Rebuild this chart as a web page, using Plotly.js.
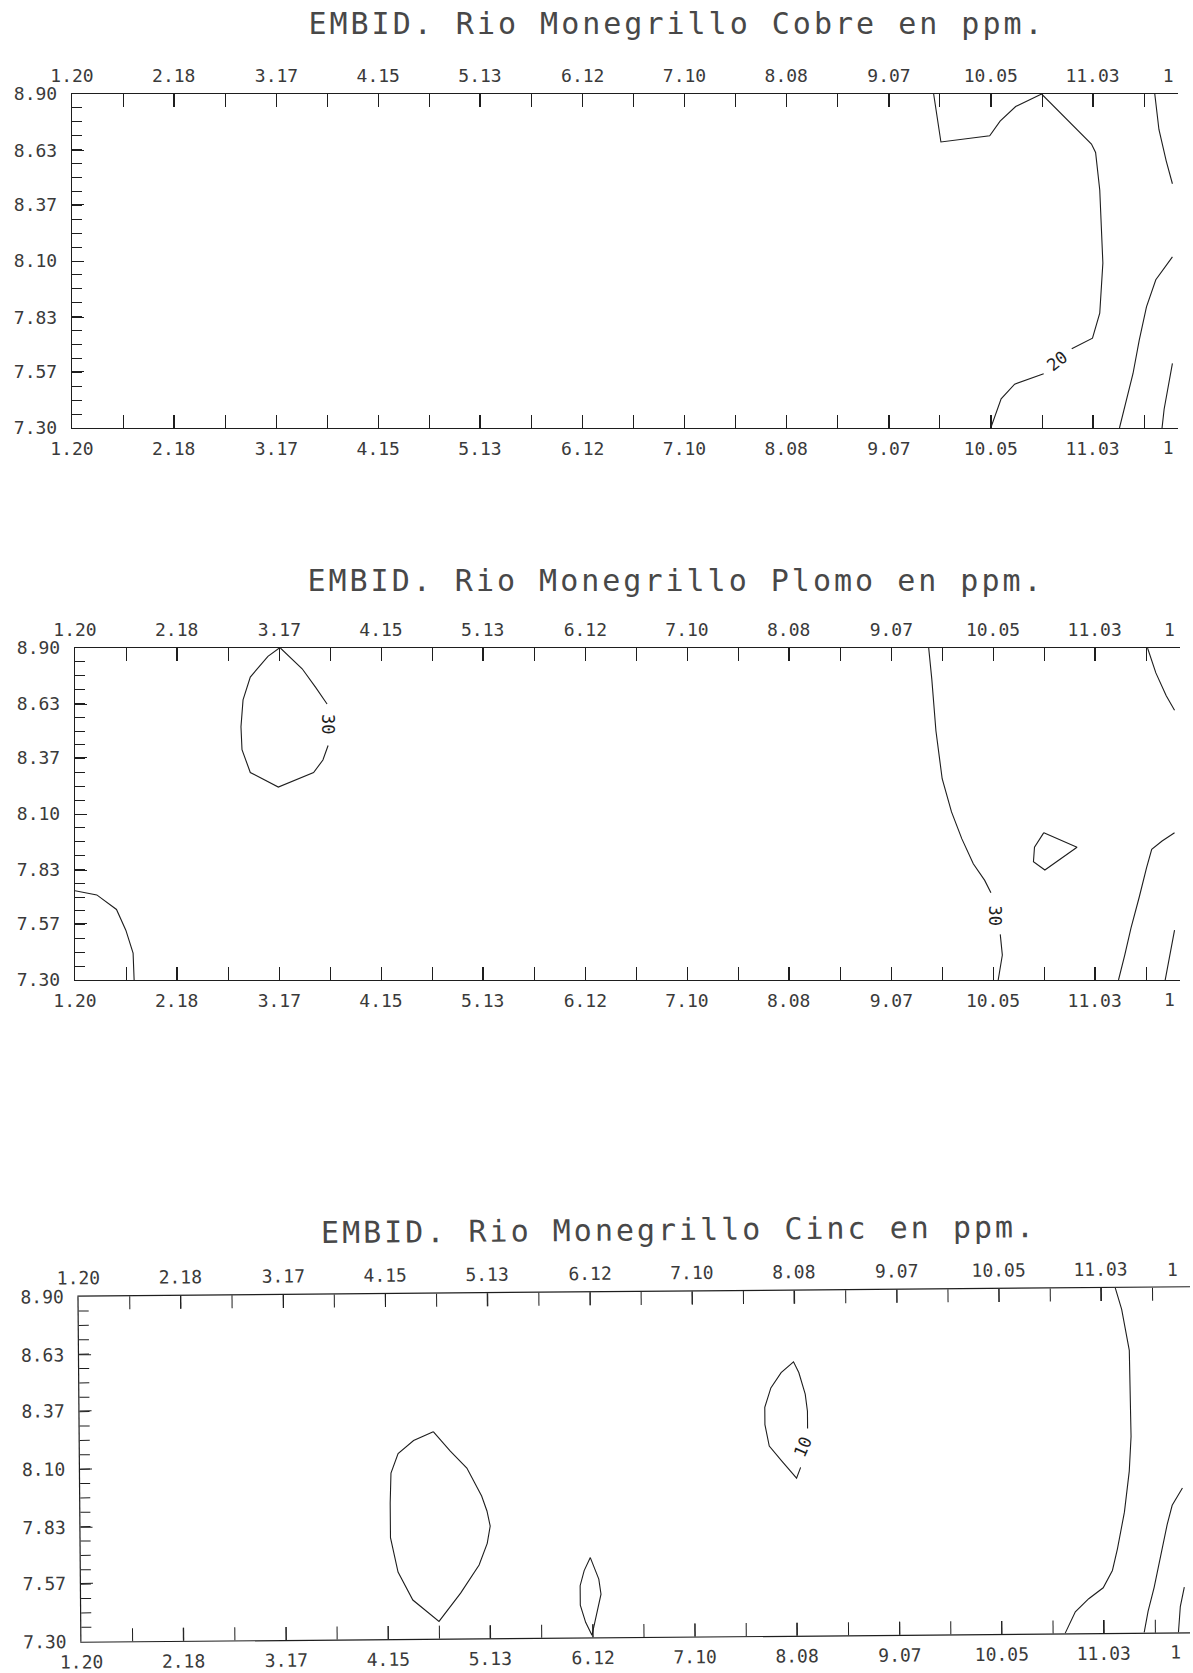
<!DOCTYPE html>
<html>
<head>
<meta charset="utf-8">
<script src="https://cdn.plot.ly/plotly-3.0.1.min.js"></script>
<style>
  html, body { margin:0; padding:0; background:#fff; }
  body { width:1193px; height:1673px; overflow:hidden; position:relative; }
  .clip { position:absolute; overflow:hidden; background:#fff; }
  .gtitle { letter-spacing:3px; }
  #p3 path, #p3 .crisp { shape-rendering:geometricPrecision !important; }
</style>
</head>
<body>
<div class="clip" style="left:0;top:0;width:1178px;height:470px;"><div id="p1"></div></div>
<div class="clip" style="left:0;top:500px;width:1180px;height:520px;"><div id="p2"></div></div>
<div class="clip" style="left:0;top:1190px;width:1190px;height:483px;"><div id="p3" style="transform:rotate(-0.48deg);transform-origin:633px 274px;"></div></div>
<script>
// ---------------- DATA ----------------
// x tick labels as printed (the last one is cut by the scan edge and shows only "1")
const xTickVals = [1.20, 2.18, 3.17, 4.15, 5.13, 6.12, 7.10, 8.08, 9.07, 10.05, 11.03, 12.02];
const xTickLabels = ['1.20','2.18','3.17','4.15','5.13','6.12','7.10','8.08','9.07','10.05','11.03','1'];
const xAxisMax = 13.00;
const yTickLabels = ['7.30','7.57','7.83','8.10','8.37','8.63','8.90'];
const titles = ['EMBID. Rio Monegrillo Cobre en ppm.', 'EMBID. Rio Monegrillo Plomo en ppm.', 'EMBID. Rio Monegrillo Cinc en ppm.'];

// Cobre (copper) contour lines
const cuA1_x = [9.50, 9.57, 10.04, 10.14, 10.29, 10.54, 11.02, 11.06, 11.10, 11.12, 11.13, 11.10, 11.03, 10.83];
const cuA1_y = [8.90, 8.67, 8.70, 8.77, 8.84, 8.90, 8.66, 8.62, 8.44, 8.25, 8.09, 7.85, 7.73, 7.68];
const cuA2_x = [10.56, 10.28, 10.15, 10.05];
const cuA2_y = [7.56, 7.51, 7.44, 7.30];
const cuB_x = [11.63, 11.67, 11.74, 11.80];
const cuB_y = [8.90, 8.73, 8.58, 8.47];
const cuC_x = [11.80, 11.64, 11.55, 11.48, 11.42, 11.36, 11.29];
const cuC_y = [8.12, 8.01, 7.88, 7.72, 7.56, 7.44, 7.30];
const cuD_x = [11.80, 11.75, 11.72, 11.70];
const cuD_y = [7.61, 7.48, 7.39, 7.30];
const cuLabelX = [10.69], cuLabelY = [7.62], cuLabelText = ['20'];

// Plomo (lead) contour lines
const pbJ1_x = [3.18, 3.39, 3.52, 3.63];
const pbJ1_y = [8.90, 8.80, 8.71, 8.63];
const pbJ2_x = [3.64, 3.59, 3.50, 3.16, 2.89, 2.81, 2.80, 2.82, 2.89, 3.06, 3.17];
const pbJ2_y = [8.43, 8.36, 8.30, 8.23, 8.30, 8.41, 8.52, 8.65, 8.76, 8.86, 8.90];
const pbK_x = [1.20, 1.41, 1.60, 1.69, 1.76, 1.77];
const pbK_y = [7.73, 7.71, 7.64, 7.54, 7.43, 7.30];
const pbE1_x = [9.43, 9.46, 9.50, 9.56, 9.65, 9.75, 9.86, 9.97, 10.03];
const pbE1_y = [8.90, 8.75, 8.50, 8.27, 8.11, 7.98, 7.86, 7.78, 7.72];
const pbE2_x = [10.12, 10.14, 10.10];
const pbE2_y = [7.52, 7.42, 7.30];
const pbF_x = [10.54, 10.86, 10.55, 10.44, 10.45, 10.54];
const pbF_y = [8.01, 7.94, 7.83, 7.87, 7.94, 8.01];
const pbG_x = [11.54, 11.62, 11.72, 11.80];
const pbG_y = [8.90, 8.78, 8.67, 8.60];
const pbH_x = [11.80, 11.68, 11.58, 11.53, 11.46, 11.38, 11.32, 11.26];
const pbH_y = [8.01, 7.97, 7.93, 7.84, 7.70, 7.55, 7.42, 7.30];
const pbI_x = [11.80, 11.76, 11.73, 11.71];
const pbI_y = [7.54, 7.43, 7.35, 7.30];
const pbLabelX = [3.646, 10.07], pbLabelY = [8.535, 7.61], pbLabelText = ['30', '30'];

// Cinc (zinc) contour lines
const znL_x = [4.60, 4.41, 4.26, 4.19, 4.18, 4.18, 4.25, 4.39, 4.64, 4.85, 5.03, 5.11, 5.14, 5.11, 5.06, 4.92, 4.76, 4.60];
const znL_y = [8.26, 8.22, 8.16, 8.07, 7.93, 7.77, 7.61, 7.48, 7.38, 7.51, 7.64, 7.74, 7.82, 7.89, 7.96, 8.09, 8.17, 8.26];
const znM_x = [6.10, 6.18, 6.20, 6.15, 6.11, 6.05, 6.00, 6.00, 6.04, 6.10];
const znM_y = [7.67, 7.57, 7.50, 7.39, 7.31, 7.37, 7.45, 7.54, 7.61, 7.67];
const znN_x = [8.20, 8.20, 8.18, 8.12, 8.07, 7.95, 7.85, 7.79, 7.79, 7.83, 7.95, 8.09, 8.13];
const znN_y = [8.26, 8.34, 8.42, 8.52, 8.57, 8.52, 8.45, 8.36, 8.28, 8.18, 8.11, 8.03, 8.08];
const znO_x = [11.17, 11.23, 11.30, 11.31, 11.31, 11.29, 11.24, 11.17, 11.12, 11.03, 10.89, 10.76, 10.66];
const znO_y = [8.90, 8.80, 8.61, 8.37, 8.21, 8.05, 7.86, 7.69, 7.59, 7.51, 7.46, 7.40, 7.30];
const znP_x = [11.80, 11.70, 11.65, 11.59, 11.52, 11.46, 11.42];
const znP_y = [7.97, 7.89, 7.80, 7.66, 7.51, 7.40, 7.30];
const znQ_x = [11.81, 11.77, 11.75];
const znQ_y = [7.51, 7.42, 7.30];
const znLabelX = [8.155], znLabelY = [8.175], znLabelText = ['10'];

// ---------------- DRAWING ----------------
const FONT = 'DejaVu Sans Mono, monospace';
const INK = '#1e1e1e';
const TXT = '#3a3a3a';
const TTL = '#484848';
const yTickVals = yTickLabels.map(Number);
const xStep = (xTickVals[xTickVals.length - 1] - xTickVals[0]) / (xTickVals.length - 1);
const yStep = (yTickVals[yTickVals.length - 1] - yTickVals[0]) / (yTickVals.length - 1);
const nMain = xTickVals.length - 1;

function buildPanel(id, lines, lbl, titleText, g) {
  const traces = lines.map(([xs, ys]) => ({
    type: 'scatter', mode: 'lines', x: xs, y: ys,
    line: { color: INK, width: 1.1 }, hoverinfo: 'skip', showlegend: false
  }));
  ['x2', 'x3', 'x4'].forEach(ax => traces.push({ type: 'scatter', mode: 'lines', x: [], y: [], xaxis: ax, yaxis: 'y', hoverinfo: 'skip', showlegend: false }));

  const tickFont = { family: FONT, size: 18, color: TXT };
  const xBase = {
    range: [xTickVals[0], xAxisMax],
    tickmode: 'array', tickvals: xTickVals.slice(0, nMain), ticktext: xTickLabels.slice(0, nMain),
    ticks: 'inside', ticklen: 13, tickwidth: 1, tickcolor: INK,
    showline: true, linecolor: INK, linewidth: 1.2,
    showgrid: false, zeroline: false,
    tickfont: tickFont,
    ticklabelstandoff: 4,
    minor: { tickmode: 'linear', tick0: xTickVals[0], dtick: xStep / 2, ticks: 'inside', ticklen: 13, tickwidth: 1, tickcolor: INK, showgrid: false },
    fixedrange: true
  };
  // the partial label at the cropped right edge
  const xEdge = {
    range: [xTickVals[0], xAxisMax],
    tickmode: 'array', tickvals: xTickVals.slice(nMain), ticktext: xTickLabels.slice(nMain),
    ticks: 'inside', ticklen: 13, tickwidth: 1, tickcolor: INK,
    showline: false, showgrid: false, zeroline: false,
    tickfont: tickFont, ticklabelstandoff: 7, ticklabelshift: g.shift,
    overlaying: 'x', anchor: 'y', fixedrange: true
  };
  const annotations = lbl.x.map((x, i) => ({
    x: x, y: lbl.y[i], xref: 'x', yref: 'y', text: lbl.text[i], textangle: lbl.angle[i],
    showarrow: false, font: { family: FONT, size: 17, color: INK }
  }));
  const layout = {
    width: g.w, height: g.h,
    margin: { l: g.l, r: g.r, t: g.t, b: g.b, pad: 0 },
    paper_bgcolor: '#fff', plot_bgcolor: '#fff', showlegend: false,
    title: {
      text: titleText, font: { family: FONT, size: 30, color: TTL },
      xref: 'container', yref: 'container', x: g.tx / g.w, y: 1 - g.ty / g.h,
      xanchor: 'center', yanchor: 'middle'
    },
    xaxis: Object.assign({}, xBase, { side: 'bottom', anchor: 'y' }),
    xaxis2: Object.assign({}, xBase, { side: 'top', overlaying: 'x', anchor: 'y' }),
    xaxis3: Object.assign({}, xEdge, { side: 'bottom' }),
    xaxis4: Object.assign({}, xEdge, { side: 'top' }),
    yaxis: {
      range: [yTickVals[0], yTickVals[yTickVals.length - 1]],
      tickmode: 'array', tickvals: yTickVals, ticktext: yTickLabels,
      ticks: 'inside', ticklen: 12, tickwidth: 1, tickcolor: INK,
      showline: true, linecolor: INK, linewidth: 1.2,
      showgrid: false, zeroline: false,
      tickfont: tickFont,
      ticklabelstandoff: 10,
      minor: { tickmode: 'linear', tick0: yTickVals[0], dtick: yStep / 4, ticks: 'inside', ticklen: 10, tickwidth: 1, tickcolor: INK, showgrid: false },
      fixedrange: true
    },
    annotations: annotations
  };
  Plotly.newPlot(id, traces, layout, { staticPlot: true, displayModeBar: false });
}

buildPanel('p1',
  [[cuA1_x, cuA1_y], [cuA2_x, cuA2_y], [cuB_x, cuB_y], [cuC_x, cuC_y], [cuD_x, cuD_y]],
  { x: cuLabelX, y: cuLabelY, text: cuLabelText, angle: [-38] },
  titles[0],
  { w: 1317, h: 470, l: 72, r: 20, t: 94, b: 42, tx: 677, ty: 23, shift: -27 });

buildPanel('p2',
  [[pbJ1_x, pbJ1_y], [pbJ2_x, pbJ2_y], [pbK_x, pbK_y], [pbE1_x, pbE1_y], [pbE2_x, pbE2_y],
   [pbF_x, pbF_y], [pbG_x, pbG_y], [pbH_x, pbH_y], [pbI_x, pbI_y]],
  { x: pbLabelX, y: pbLabelY, text: pbLabelText, angle: [90, 90] },
  titles[1],
  { w: 1319, h: 520, l: 75, r: 20, t: 148, b: 40, tx: 676, ty: 80, shift: -28 });

buildPanel('p3',
  [[znL_x, znL_y], [znM_x, znM_y], [znN_x, znN_y], [znO_x, znO_y], [znP_x, znP_y], [znQ_x, znQ_y]],
  { x: znLabelX, y: znLabelY, text: znLabelText, angle: [-66] },
  titles[2],
  { w: 1327, h: 483, l: 80, r: 20, t: 102, b: 36, tx: 681, ty: 40, shift: -31 });
</script>
</body>
</html>
